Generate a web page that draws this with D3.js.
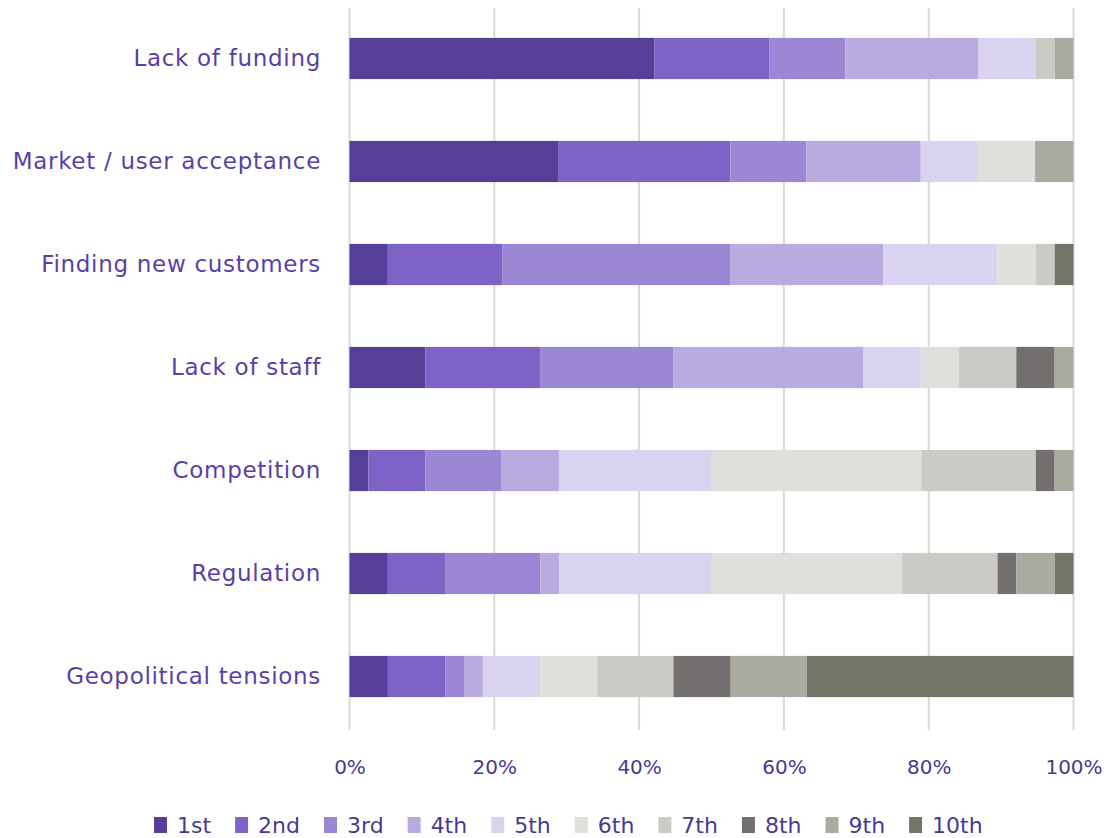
<!DOCTYPE html>
<html>
<head>
<meta charset="utf-8">
<script src="https://cdn.jsdelivr.net/npm/d3@7"></script>
<style>
  html, body { margin: 0; padding: 0; background: #ffffff; }
  svg { display: block; }
  svg text { font-family: "DejaVu Sans", "Verdana", sans-serif !important; }
</style>
</head>
<body>
<svg id="chart" width="1107" height="838"></svg>
<script>
// Obstacles, ranked 1st (most important) to 10th — share of respondents (%)
const categories = [
  "Lack of funding",
  "Market / user acceptance",
  "Finding new customers",
  "Lack of staff",
  "Competition",
  "Regulation",
  "Geopolitical tensions"
];
const ranks = ["1st", "2nd", "3rd", "4th", "5th", "6th", "7th", "8th", "9th", "10th"];

const rank1  = [42.1, 28.9,  5.3, 10.5,  2.6,  5.3,  5.3];
const rank2  = [15.8, 23.7, 15.8, 15.8,  7.9,  7.9,  7.9];
const rank3  = [10.5, 10.5, 31.6, 18.4, 10.5, 13.2,  2.6];
const rank4  = [18.4, 15.8, 21.1, 26.3,  7.9,  2.6,  2.6];
const rank5  = [ 7.9,  7.9, 15.8,  7.9, 21.1, 21.1,  7.9];
const rank6  = [ 0.0,  7.9,  5.3,  5.3, 28.9, 26.3,  7.9];
const rank7  = [ 2.6,  0.0,  2.6,  7.9, 15.8, 13.2, 10.5];
const rank8  = [ 0.0,  0.0,  0.0,  5.3,  2.6,  2.6,  7.9];
const rank9  = [ 2.6,  5.3,  0.0,  2.6,  2.6,  5.3, 10.5];
const rank10 = [ 0.0,  0.0,  2.6,  0.0,  0.0,  2.6, 36.8];

const tickValues = [0, 0.2, 0.4, 0.6, 0.8, 1.0];

const colors = ["#563f98", "#7d63c5", "#9c87d5", "#b9aae0", "#dad3f0",
                "#dfe0db", "#cacbc4", "#736f6e", "#a9aba1", "#737567"];

const seriesValues = [rank1, rank2, rank3, rank4, rank5, rank6, rank7, rank8, rank9, rank10];

// one row per category, one column per rank
const rows = categories.map((c, i) => {
  const r = { category: c };
  ranks.forEach((k, j) => { r[k] = seriesValues[j][i]; });
  return r;
});

const stacked = d3.stack()
  .keys(ranks)
  .offset(d3.stackOffsetExpand)(rows);

const svg = d3.select("#chart");
const fontFamily = '"DejaVu Sans", Verdana, sans-serif';
const textColor = "#4b3893";
const labelColor = "#5a3fa6";

const x = d3.scaleLinear().domain([0, 1]).range([349.5, 1073.5]);
const y = d3.scaleBand()
  .domain(categories)
  .range([7, 728])
  .paddingInner(0.6)
  .paddingOuter(0.3);

// vertical gridlines
svg.append("g")
  .selectAll("line")
  .data(tickValues)
  .join("line")
  .attr("x1", d => x(d)).attr("x2", d => x(d))
  .attr("y1", 8).attr("y2", 730)
  .attr("stroke", "#d9d9d9")
  .attr("stroke-width", 2);

// stacked bars
svg.append("g")
  .selectAll("g")
  .data(stacked)
  .join("g")
  .attr("fill", (d, i) => colors[i])
  .selectAll("rect")
  .data(d => d)
  .join("rect")
  .attr("x", d => x(d[0]))
  .attr("y", d => y(d.data.category))
  .attr("width", d => Math.max(0, x(d[1]) - x(d[0])))
  .attr("height", y.bandwidth());

// category axis
const yAxis = svg.append("g")
  .attr("transform", "translate(349,0)")
  .call(d3.axisLeft(y).tickSize(0).tickPadding(28));
yAxis.attr("font-family", fontFamily);
yAxis.select(".domain").remove();
yAxis.selectAll("text")
  .attr("fill", labelColor)
  .style("font-family", fontFamily)
  .style("font-size", "23px")
  .style("letter-spacing", "0.7px")
  .attr("dy", "0.32em");

// percentage axis
const xAxis = svg.append("g")
  .attr("transform", "translate(0,750)")
  .call(d3.axisBottom(x).tickValues(tickValues).tickSize(0).tickPadding(10).tickFormat(d3.format(".0%")));
xAxis.attr("font-family", fontFamily);
xAxis.select(".domain").remove();
xAxis.selectAll("text")
  .attr("fill", textColor)
  .style("font-family", fontFamily)
  .style("font-size", "20px");

// legend
const legend = svg.append("g").attr("transform", "translate(154,0)");
let lx = 0;
ranks.forEach((k, i) => {
  const g = legend.append("g").attr("transform", `translate(${lx},0)`);
  g.append("rect")
    .attr("x", 0).attr("y", 817)
    .attr("width", 13).attr("height", 16)
    .attr("fill", colors[i]);
  const t = g.append("text")
    .attr("x", 23).attr("y", 833)
    .attr("fill", textColor)
    .style("font-family", fontFamily)
    .style("font-size", "22px")
    .text(k);
  lx += 23 + t.node().getComputedTextLength() + 24;
});
</script>
</body>
</html>
